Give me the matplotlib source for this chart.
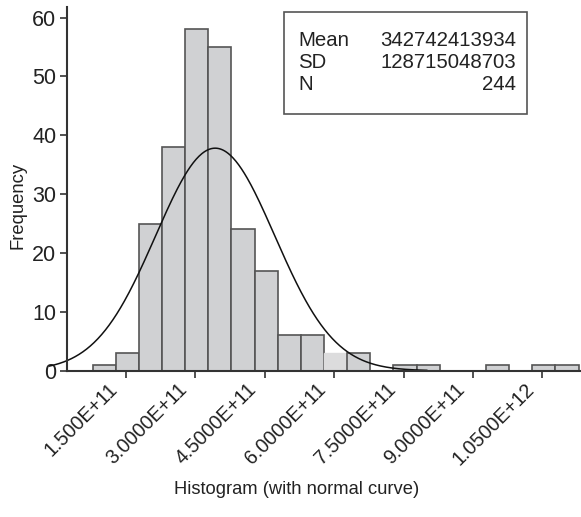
import numpy as np
import matplotlib
matplotlib.use("Agg")
import matplotlib.pyplot as plt
from matplotlib.transforms import ScaledTranslation

plt.rcParams['font.family'] = ['Liberation Sans', 'DejaVu Sans']

# Histogram data (bin width 5E10)
bin_start = 0.78e11
bin_width = 0.5e11
counts = [1, 3, 25, 38, 58, 55, 24, 17, 6, 6, 3, 3, 0, 1, 1, 0, 0, 1, 0, 1, 1]
light_bins = [10]  # index of the lighter bar

mean = 342742413934
sd = 128715048703
n = 244

tick_values = [1.5e11, 3.0e11, 4.5e11, 6.0e11, 7.5e11, 9.0e11, 1.05e12]
tick_labels = ["1.500E+11", "3.0000E+11", "4.5000E+11", "6.0000E+11",
               "7.5000E+11", "9.0000E+11", "1.0500E+12"]
y_ticks = [0, 10, 20, 30, 40, 50, 60]

W, H = 581, 517
fig = plt.figure(figsize=(W / 100, H / 100), dpi=100)
ax = fig.add_axes([67.3 / W, 1 - 370.7 / H, (W - 67.3) / W, (370.7 - 7) / H])

edges = bin_start + bin_width * np.arange(len(counts))
for i, (e, c) in enumerate(zip(edges, counts)):
    if c == 0:
        continue
    if i in light_bins:
        ax.bar(e, c, width=bin_width, align='edge', color='#dcdcdd',
               edgecolor='#dcdcdd', linewidth=1.0, zorder=2)
    else:
        ax.bar(e, c, width=bin_width, align='edge', color='#d0d1d3',
               edgecolor='#555555', linewidth=1.2, zorder=2)

# Normal curve
xs = np.linspace(-0.15e11, 8.0e11, 400)
ys = n * bin_width / (sd * np.sqrt(2 * np.pi)) * np.exp(-0.5 * ((xs - mean) / sd) ** 2)
ax.plot(xs, ys, color='#111111', linewidth=1.1, zorder=3, clip_on=False)

ax.set_xlim(0.2313e11, 11.334e11)
ax.set_ylim(0, 61.8)

for s in ['top', 'right']:
    ax.spines[s].set_visible(False)
for s in ['left', 'bottom']:
    ax.spines[s].set_color('#333333')
    ax.spines[s].set_linewidth(1.5)
    ax.spines[s].set_zorder(4)

ax.set_yticks(y_ticks)
ax.set_yticklabels([str(v) for v in y_ticks], fontsize=15.5, color='#222222')
ax.set_xticks(tick_values)
ax.set_xticklabels(tick_labels, fontsize=14.2, color='#222222', rotation=45,
                   ha='right', va='center', rotation_mode='anchor')
ax.tick_params(axis='both', direction='out', length=5, width=1.2, color='#333333')
ax.tick_params(axis='y', pad=3)
ax.tick_params(axis='x', pad=6.3)
offset = ScaledTranslation(-11 / 100, 0, fig.dpi_scale_trans)
for lbl in ax.get_xticklabels():
    lbl.set_transform(lbl.get_transform() + offset)

fig.text(18 / W, 1 - 205 / H, 'Frequency', rotation=90, fontsize=13.3,
         ha='center', va='center', color='#222222')
fig.text(297 / W, 1 - 490 / H, 'Histogram (with normal curve)', fontsize=13.2,
         ha='center', va='center', color='#222222')

# Stats box
bx0, by0, bx1, by1 = 284.3, 12.3, 527.3, 114
rect = plt.Rectangle((bx0 / W, 1 - by1 / H), (bx1 - bx0) / W, (by1 - by0) / H,
                     transform=fig.transFigure, facecolor='white',
                     edgecolor='#555555', linewidth=1.2, zorder=5)
fig.patches.append(rect)
rows = [("Mean", str(mean)), ("SD", str(sd)), ("N", str(n))]
for k, (lab, val) in enumerate(rows):
    yc = 40 + k * 22.5
    fig.text(298.3 / W, 1 - yc / H, lab, fontsize=14.7, ha='left', va='center',
             color='#222222', zorder=6)
    fig.text(515.7 / W, 1 - yc / H, val, fontsize=14.7, ha='right', va='center',
             color='#222222', zorder=6)

fig.savefig('out.png', dpi=100)
